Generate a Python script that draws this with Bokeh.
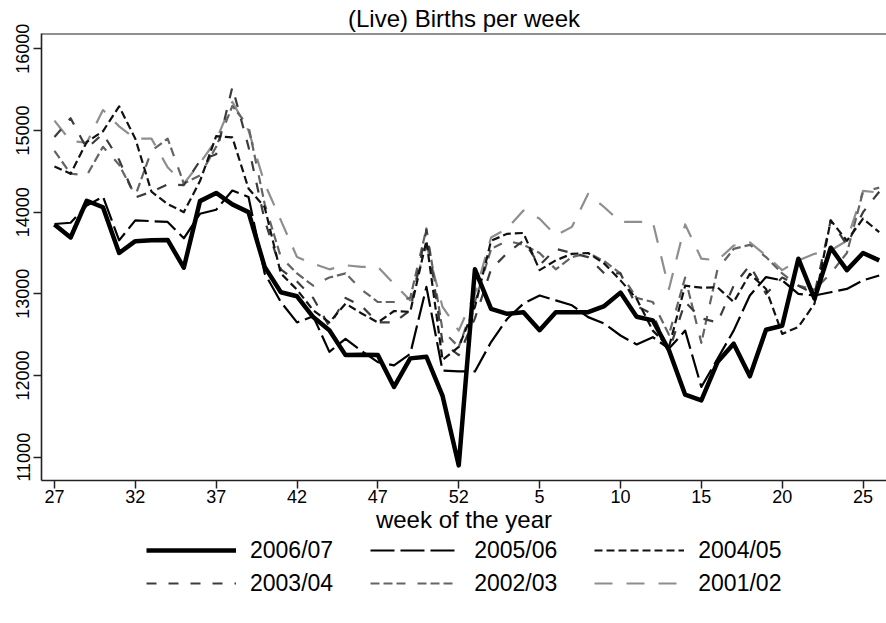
from bokeh.plotting import figure
from bokeh.models import Range1d, FixedTicker, Legend, LegendItem, Span
from bokeh.layouts import column
from bokeh.embed import file_html
from bokeh.resources import INLINE

# ---- data ----
weeks = list(range(27, 53)) + list(range(1, 27))
xs = list(range(len(weeks)))
tick_pos = [0, 5, 10, 15, 20, 25, 30, 35, 40, 45, 50]
tick_labels = ["27", "32", "37", "42", "47", "52", "5", "10", "15", "20", "25"]
y_ticks = [11000, 12000, 13000, 14000, 15000, 16000]

s2006 = [13850, 13690, 14140, 14060, 13500, 13645, 13655, 13660, 13320, 14135, 14235, 14095, 14000,
         13330, 13020, 12970, 12715, 12555, 12250, 12255, 12250, 11860, 12210, 12230, 11750, 10900,
         13300, 12815, 12755, 12775, 12555, 12775, 12775, 12775, 12850, 13015, 12720, 12675, 12310,
         11765, 11695, 12165, 12390, 11990, 12560, 12610, 13430, 12940, 13565, 13290, 13500, 13410]
s2005 = [13855, 13870, 14080, 14190, 13655, 13900, 13890, 13880, 13680, 13980, 14030, 14265, 14185,
         13250, 12900, 12650, 12725, 12290, 12450, 12300, 12165, 12125, 12265, 13085, 12060, 12050,
         12050, 12410, 12695, 12880, 12980, 12920, 12860, 12715, 12635, 12490, 12380, 12470, 12330,
         12550, 11860, 12205, 12550, 12980, 13205, 13165, 13000, 12980, 13020, 13060, 13165, 13225]
s2004 = [14560, 14470, 14860, 14990, 15295, 14900, 14250, 14100, 14000, 14380, 14930, 14915, 14290,
         14060, 13250, 13050, 12800, 12650, 12880, 12760, 12650, 12790, 12780, 13650, 12190, 12350,
         12840, 13650, 13735, 13745, 13290, 13410, 13490, 13500, 13370, 13165, 12940, 12550, 12350,
         13100, 13075, 13080, 12900, 13245, 13060, 12510, 12595, 12880, 13900, 13650, 13920, 13755]
s2003 = [14920, 15150, 14780, 14960, 14640, 14180, 14250, 14340, 14330, 14630, 14710, 15530, 14800,
         13900, 13300, 13150, 12950, 12600, 12950, 12850, 12650, 12650, 12800, 13780, 12400, 12250,
         12700, 13300, 13500, 13650, 13350, 13550, 13500, 13450, 13250, 13250, 12850, 12750, 12300,
         12900, 12700, 12650, 13100, 13350, 13000, 13200, 13100, 13000, 13900, 13600, 14000, 14250]
s2002 = [14750, 14470, 14450, 14800, 14580, 14200, 14750, 14900, 14350, 14450, 14800, 15300, 15050,
         14100, 13450, 13250, 13100, 13200, 13250, 13050, 12900, 12900, 12950, 13800, 12550, 12350,
         12900, 13550, 13650, 13600, 13500, 13300, 13450, 13500, 13400, 13250, 12950, 12900, 12500,
         13200, 12400, 13300, 13550, 13600, 13450, 13250, 13100, 13050, 13250, 13500, 14250, 14300]
s2001 = [15120, 14870, 14850, 15250, 15050, 14900, 14900, 14550, 14350, 14600, 14880, 15350, 15000,
         14350, 13900, 13450, 13370, 13300, 13350, 13330, 13330, 13120, 12920, 13600, 12840, 12550,
         13000, 13690, 13800, 14020, 13920, 13715, 13820, 14225, 14060, 13880, 13880, 13880, 13060,
         13850, 13430, 13410, 13590, 13630, 13470, 13290, 13410, 13490, 13530, 13650, 14260, 14240]

labels = ["2006/07", "2005/06", "2004/05", "2003/04", "2002/03", "2001/02"]
series = [s2006, s2005, s2004, s2003, s2002, s2001]

# ---- styles ----
FONT = "Liberation Sans"
colors = ["#000000", "#000000", "#111111", "#3c3c3c", "#646464", "#8e8e8e"]
widths = [4.5, 2.2, 2.2, 2.2, 2.2, 2.2]
dashes = ["solid", "24 6", "8 4", "10 12", "9 4 9 4 9 12", "18 14"]
FRAME_C = "#222222"

Y_TOP = 16187
p = figure(frame_width=845, frame_height=447,
           x_range=Range1d(-0.80, 51.45), y_range=Range1d(10715, Y_TOP),
           output_backend="svg", toolbar_location=None,
           min_border_left=41, min_border_right=0, min_border_top=33,
           min_border_bottom=58, title="(Live) Births per week")

p.title.align = "center"
p.title.text_font = FONT
p.title.text_font_size = "24px"
p.title.text_font_style = "normal"
p.title.text_color = "#000000"
p.title.standoff = 4
p.title.offset = 0
p.title.text_line_height = 0.9

p.grid.visible = False
p.background_fill_color = "white"
p.border_fill_color = "white"
p.outline_line_color = None

xa = p.xaxis[0]
xa.ticker = FixedTicker(ticks=tick_pos)
xa.major_label_overrides = {t: l for t, l in zip(tick_pos, tick_labels)}
xa.axis_label = "week of the year"
xa.axis_label_text_font = FONT
xa.axis_label_text_font_size = "24px"
xa.axis_label_text_font_style = "normal"
xa.axis_label_text_color = "#000000"
xa.axis_label_standoff = 0
xa.major_label_text_font = FONT
xa.major_label_text_font_size = "18px"
xa.major_label_text_color = "#000000"
xa.major_label_standoff = 1
xa.axis_line_color = FRAME_C
xa.axis_line_width = 1.6
xa.major_tick_in = 0
xa.major_tick_out = 8
xa.major_tick_line_color = FRAME_C
xa.major_tick_line_width = 1.5
xa.minor_tick_line_color = None

ya = p.yaxis[0]
ya.ticker = FixedTicker(ticks=y_ticks)
ya.major_label_orientation = "vertical"
ya.major_label_text_font = FONT
ya.major_label_text_font_size = "18px"
ya.major_label_text_color = "#000000"
ya.major_label_standoff = 4
ya.axis_line_color = FRAME_C
ya.axis_line_width = 1.6
ya.major_tick_in = 0
ya.major_tick_out = 8
ya.major_tick_line_color = FRAME_C
ya.major_tick_line_width = 1.5
ya.minor_tick_line_color = None

# top edge of the plot box (the right edge lies outside the picture)
p.add_layout(Span(location=Y_TOP, dimension="width", line_color=FRAME_C, line_width=2))

renderers = []
for s, c, w, d in zip(series, colors, widths, dashes):
    r = p.line(xs, s, line_color=c, line_width=w, line_dash=d, line_join="round")
    renderers.append(r)
# draw order: grays first, thick black on top
order = [5, 4, 3, 2, 1, 0]
p.renderers = [renderers[i] for i in order] + [r for r in p.renderers if r not in renderers]

# ---- legend strip below the chart (its frame is aligned with the chart's frame) ----
H2 = 85
p2 = figure(width=886, height=H2, x_range=Range1d(0, 1), y_range=Range1d(0, 1),
            output_backend="svg", toolbar_location=None,
            x_axis_location=None, y_axis_location=None, min_border=0)
p2.grid.visible = False
p2.outline_line_color = None
p2.background_fill_color = "white"
p2.border_fill_color = "white"

# legend keys: same series and styles, lying outside this strip's ranges (not visible)
keys = []
for s, c, w, d in zip(series, colors, widths, dashes):
    keys.append(p2.line(xs, s, line_color=c, line_width=w, line_dash=d))

def make_legend(idx, loc):
    items = [LegendItem(label=labels[i], renderers=[keys[i]]) for i in idx]
    return Legend(items=items, orientation="horizontal", location=loc,
                  glyph_width=90, glyph_height=20, label_standoff=14, spacing=37,
                  label_text_font=FONT, label_text_font_size="23px",
                  label_text_color="#000000", border_line_color=None,
                  background_fill_alpha=0, padding=0, margin=0)

ITEM_H = 27
LEFT = 105
row1_center = 12
row2_center = 45
p2.add_layout(make_legend([0, 1, 2], (LEFT, H2 - row1_center - ITEM_H / 2)), "center")
p2.add_layout(make_legend([3, 4, 5], (LEFT, H2 - row2_center - ITEM_H / 2)), "center")

open("out.html", "w").write(file_html(column(p, p2, spacing=0), INLINE))
